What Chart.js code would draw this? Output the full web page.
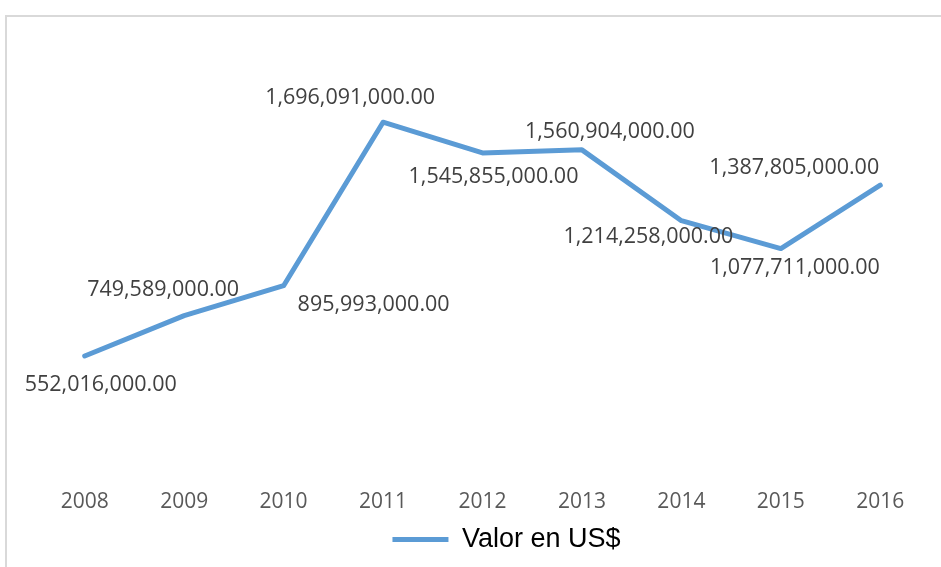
<!DOCTYPE html>
<html>
<head>
<meta charset="utf-8">
<script src="https://cdn.jsdelivr.net/npm/chart.js@4/dist/chart.umd.min.js"></script>
<style>
  html, body { margin: 0; padding: 0; background: #fff; }
  #wrap { position: relative; width: 941px; height: 567px; overflow: hidden; }
  #frame { position: absolute; left: 5px; top: 15px; width: 1000px; height: 1000px;
           border-top: 2px solid #d9d9d9; border-left: 2px solid #d9d9d9; box-sizing: border-box; }
  canvas { position: absolute; left: 0; top: 0; }
</style>
</head>
<body>
<div id="wrap">
  <div id="frame"></div>
  <canvas id="lineChart" width="941" height="567"></canvas>
</div>
<script>
// datos
const years = ["2008", "2009", "2010", "2011", "2012", "2013", "2014", "2015", "2016"];
const valores = [552016000, 749589000, 895993000, 1696091000, 1545855000, 1560904000, 1214258000, 1077711000, 1387805000];
const serieNombre = "Valor en US$";

// desplazamiento de cada etiqueta respecto a su punto (dx, dy)
const labelOffsets = [[16, 29], [-21, -26], [90, 19], [-33, -24], [11, 24], [28, -18], [-33, 16], [14, 19], [-86, -17]];

const blue = "#5B9BD5";

const fmt = v => v.toLocaleString("en-US", {minimumFractionDigits: 2, maximumFractionDigits: 2});

// etiquetas de datos dibujadas a mano (no hay plugin datalabels)
const dataLabels = {
    id: "dataLabels",
    afterDatasetsDraw(chart) {
        const ctx = chart.ctx;
        const meta = chart.getDatasetMeta(0);
        ctx.save();
        ctx.font = "21.5px 'Open Sans'";
        ctx.fillStyle = "#404040";
        ctx.textAlign = "center";
        ctx.textBaseline = "middle";
        meta.data.forEach((pt, i) => {
            const [dx, dy] = labelOffsets[i];
            ctx.fillText(fmt(valores[i]), pt.x + dx, pt.y + dy);
        });
        ctx.restore();
    }
};

// la leyenda del original esta algo corrida a la derecha
const legendShift = {
    id: "legendShift",
    afterLayout(chart) {
        chart.legend.left += 24;
        chart.legend.right += 24;
    }
};

const data = {
    labels: years,
    datasets: [{
        label: serieNombre,
        data: valores,
        borderColor: blue,
        backgroundColor: blue,
        borderWidth: 5,
        borderCapStyle: "round",
        borderJoinStyle: "round",
        pointRadius: 0,
        tension: 0
    }]
};

const options = {
    responsive: false,
    animation: false,
    layout: { padding: { top: 101, left: 35, right: 11, bottom: 4 } },
    plugins: {
        tooltip: { enabled: false },
        legend: {
            position: "bottom",
            labels: {
                usePointStyle: true,
                pointStyle: "line",
                pointStyleWidth: 56,
                boxHeight: 20,
                padding: 0,
                color: "#000",
                font: { family: "'Liberation Sans Narrow', 'Liberation Sans'", size: 27 }
            }
        }
    },
    scales: {
        x: {
            offset: true,
            grid: { display: false, drawTicks: false },
            border: { display: false },
            ticks: { color: "#595959", padding: 21, font: { family: "'Open Sans'", size: 21 } },
            afterFit: scale => { scale.height -= 10; }
        },
        y: {
            display: false,
            min: 0,
            max: 1800000000
        }
    }
};

new Chart("lineChart", { type: "line", data, options, plugins: [dataLabels, legendShift] });
</script>
</body>
</html>
